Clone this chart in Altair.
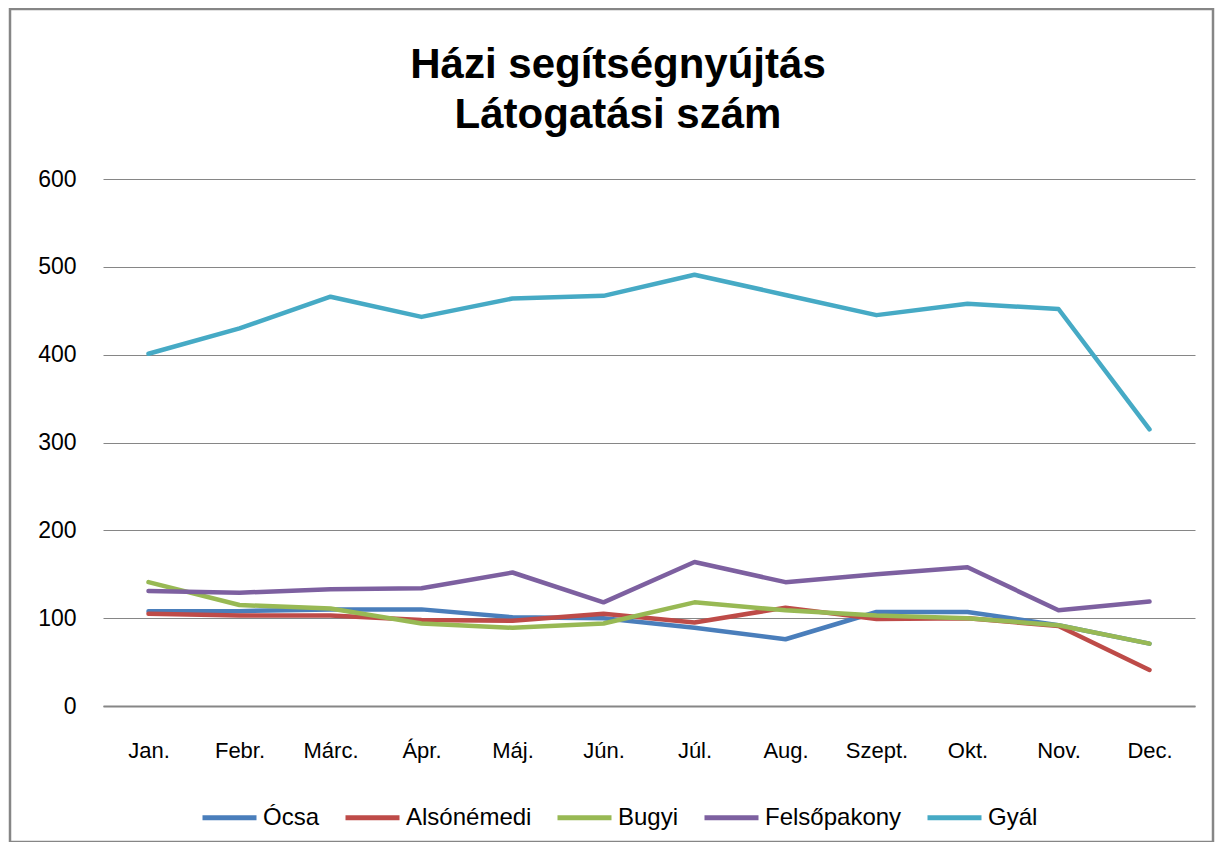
import altair as alt
import pandas as pd

months = ["Jan.", "Febr.", "Márc.", "Ápr.", "Máj.", "Jún.", "Júl.", "Aug.", "Szept.", "Okt.", "Nov.", "Dec."]
series_names = ["Ócsa", "Alsónémedi", "Bugyi", "Felsőpakony", "Gyál"]
ocsa = [108, 108, 110, 110, 101, 100, 89, 76, 107, 107, 92, 71]
alsonemedi = [105, 103, 103, 98, 97, 105, 95, 112, 99, 100, 91, 41]
bugyi = [141, 115, 111, 94, 89, 94, 118, 109, 103, 100, 92, 71]
felsopakony = [131, 129, 133, 134, 152, 118, 164, 141, 150, 158, 109, 119]
gyal = [401, 430, 466, 443, 464, 467, 491, 468, 445, 458, 452, 315]
colors = ["#4A7EBB", "#BE4B48", "#98B954", "#7D60A0", "#46AAC5"]

rows = []
for name, vals in zip(series_names, [ocsa, alsonemedi, bugyi, felsopakony, gyal]):
    for m, v in zip(months, vals):
        rows.append({"Hónap": m, "Sorozat": name, "Érték": v})
df = pd.DataFrame(rows)

FONT = "Liberation Sans, Arial"

lines = alt.Chart(df).mark_line(strokeWidth=4.5, strokeCap="round", strokeJoin="round").encode(
    x=alt.X("Hónap:N", sort=months, title=None,
            scale=alt.Scale(type="point", padding=0.5),
            axis=alt.Axis(labelAngle=0, labelFontSize=22, labelFont=FONT, labelColor="#000",
                          ticks=False, domainColor="#868686", domainWidth=2, labelPadding=34,
                          grid=False)),
    y=alt.Y("Érték:Q", title=None,
            scale=alt.Scale(domain=[0, 600], nice=False),
            axis=alt.Axis(values=[0, 100, 200, 300, 400, 500, 600], labelFontSize=23, labelFont=FONT,
                          labelColor="#000", ticks=False, domain=False, gridColor="#868686",
                          gridWidth=1, labelPadding=27)),
    color=alt.Color("Sorozat:N", sort=series_names,
                    scale=alt.Scale(domain=series_names, range=colors),
                    legend=alt.Legend(title=None, orient="none", direction="horizontal",
                                      legendX=97, legendY=609, symbolType="stroke",
                                      symbolSize=2916, symbolStrokeWidth=5, labelFontSize=24,
                                      labelFont=FONT, labelColor="#000", columnPadding=15,
                                      labelOffset=4)),
)

frame = alt.Chart(pd.DataFrame({"a": [0]})).mark_rect(
    fill=None, stroke="#868686", strokeWidth=2.5, clip=False
).encode(
    x=alt.value(-93), x2=alt.value(1110), y=alt.value(-170), y2=alt.value(663)
)

chart = alt.layer(frame, lines).properties(
    width=1092, height=527,
    padding={"left": 95, "top": 171, "right": 20, "bottom": 136},
    autosize=alt.AutoSizeParams(type="none"),
    title=alt.TitleParams(["Házi segítségnyújtás", "Látogatási szám"], fontSize=42,
                          font=FONT, fontWeight="bold", color="#000", anchor="middle",
                          frame="group", dx=-31, dy=129, offset=0, lineHeight=50),
).configure_view(stroke=None)

chart.save("out.html", embed_options={"renderer": "svg", "actions": False})
